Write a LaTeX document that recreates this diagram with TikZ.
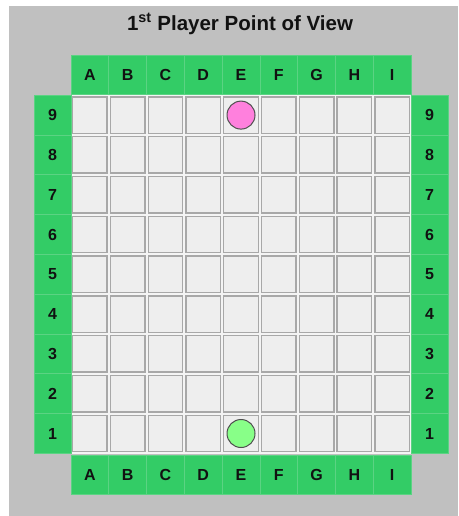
\documentclass[tikz,border=0pt]{standalone}
\usepackage{fontspec}
\setmainfont{Liberation Sans}
\definecolor{bg}{HTML}{C0C0C0}
\definecolor{hdr}{HTML}{33CC66}
\definecolor{hdrline}{HTML}{5BD383}
\definecolor{boardc}{HTML}{F4F4F4}
\definecolor{cellf}{HTML}{EEEEEE}
\definecolor{celld}{HTML}{A8A8A8}
\definecolor{pinkp}{HTML}{FF80DD}
\definecolor{greenp}{HTML}{88FF88}
\definecolor{pieced}{HTML}{505050}
\definecolor{txt}{HTML}{111111}
\begin{document}
\begin{tikzpicture}[x=1pt,y=-1pt,
  hdrbox/.style={rectangle,fill=hdr,draw=hdrline,line width=0.7pt,inner sep=0pt,
    text=txt,font=\fontsize{16}{18}\selectfont\bfseries},
  colhdr/.style={hdrbox,minimum width=37.78pt,minimum height=39pt},
  rowhdr/.style={hdrbox,minimum width=37pt,minimum height=39.8pt},
  boardbg/.style={rectangle,fill=boardc,inner sep=0pt,minimum width=340pt,minimum height=359pt},
  cellbox/.style={rectangle,fill=cellf,draw=celld,line width=1.4pt,inner sep=0pt,
    minimum width=34.5pt,minimum height=36.5pt},
  piece/.style={circle,draw=pieced,line width=1pt,inner sep=0pt,minimum size=28pt},
  titlestyle/.style={text=txt,font=\fontsize{20.5}{22}\selectfont\bfseries,inner sep=0pt}]
\useasboundingbox (0,0) rectangle (458,516);
\fill[bg] (9,6) rectangle (458,516);
\node[titlestyle] (title) at (240,24) {1\textsuperscript{st} Player Point of View};
\node[boardbg] (board) at (241,274.6) {};
\foreach \L [count=\i from 0] in {A,B,C,D,E,F,G,H,I} {
  \pgfmathsetmacro{\xx}{71+37.78*\i+18.89}
  \node[colhdr] (top\L) at (\xx,74.5) {\L};
  \node[colhdr] (bot\L) at (\xx,475) {\L};
  \foreach \r in {1,...,9} {
    \pgfmathsetmacro{\yy}{95.2+(9-\r)*39.8+19.9}
    \node[cellbox] (cell\L\r) at (\xx,\yy) {};
  }
}
\foreach \r in {1,...,9} {
  \pgfmathsetmacro{\yy}{95.2+(9-\r)*39.8+19.9}
  \node[rowhdr] (left\r) at (52.5,\yy) {\r};
  \node[rowhdr] (right\r) at (429.5,\yy) {\r};
}
\node[piece,fill=pinkp] (pinkpiece) at (cellE9) {};
\node[piece,fill=greenp] (greenpiece) at (cellE1) {};
\end{tikzpicture}
\end{document}
